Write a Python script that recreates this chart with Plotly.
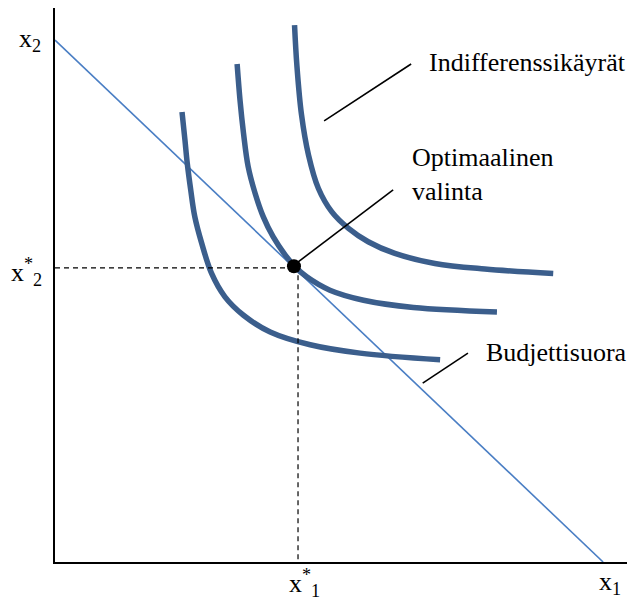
import plotly.graph_objects as go

# indifference curves (x1, x2)
ic_low_x = [2.19, 2.24, 2.28, 2.34, 2.41, 2.53, 2.70, 2.93, 3.25, 3.71, 4.40, 5.26, 6.64]
ic_low_y = [8.08, 7.58, 7.16, 6.68, 6.20, 5.72, 5.18, 4.76, 4.43, 4.13, 3.90, 3.75, 3.63]
ic_mid_x = [3.14, 3.19, 3.25, 3.33, 3.45, 3.59, 3.76, 3.97, 4.13, 4.34, 4.74, 5.32, 6.18, 7.62]
ic_mid_y = [8.94, 8.29, 7.70, 7.10, 6.62, 6.20, 5.84, 5.51, 5.31, 5.12, 4.88, 4.70, 4.57, 4.49]
ic_high_x = [4.13, 4.17, 4.25, 4.37, 4.54, 4.77, 5.06, 5.40, 5.86, 6.55, 7.41, 8.59]
ic_high_y = [9.64, 8.92, 8.03, 7.31, 6.71, 6.29, 5.99, 5.75, 5.54, 5.36, 5.26, 5.18]

budget_x = [0, 9.45]
budget_y = [9.37, 0]

opt_x, opt_y = 4.12, 5.31
guide_x, guide_y = 4.19, 5.28

# label leader lines: (x0, y0, x1, y1)
leaders = [(4.64, 7.92, 6.14, 8.94),
           (4.17, 5.37, 5.83, 6.68),
           (6.34, 3.21, 7.12, 3.75)]

labels = [("Indifferenssikäyrät", 6.42, 8.96),
          ("Optimaalinen<br>valinta", 6.12, 6.95),
          ("Budjettisuora", 7.40, 3.77)]

# axis labels sit outside the plot, so they are placed in axis-fraction units
axis_labels = [("x<sub>2</sub>", -0.066, 0.975),
               ("x<sup>*</sup><sub>2</sub>", -0.080, 0.523),
               ("x<sup>*</sup><sub>1</sub>", 0.400, -0.074),
               ("x<sub>1</sub>", 0.934, -0.070)]

X_MAX, Y_MAX = 10, 9.946

curve_color = "#3b5e8c"
budget_color = "#4a7ec4"
font = dict(family="Liberation Serif", size=26, color="black")

fig = go.Figure()

fig.add_trace(go.Scatter(x=budget_x, y=budget_y, mode="lines",
                         line=dict(color=budget_color, width=1.6)))
for xs, ys in [(ic_low_x, ic_low_y), (ic_mid_x, ic_mid_y), (ic_high_x, ic_high_y)]:
    fig.add_trace(go.Scatter(x=xs, y=ys, mode="lines",
                             line=dict(color=curve_color, width=5.5, shape="spline")))

# dashed guides to the optimum
fig.add_trace(go.Scatter(x=[0, opt_x], y=[guide_y, guide_y], mode="lines",
                         line=dict(color="black", width=1.2, dash="5px,4px")))
fig.add_trace(go.Scatter(x=[guide_x, guide_x], y=[opt_y, 0], mode="lines",
                         line=dict(color="black", width=1.2, dash="5px,4px")))

for x0, y0, x1, y1 in leaders:
    fig.add_trace(go.Scatter(x=[x0, x1], y=[y0, y1], mode="lines",
                             line=dict(color="black", width=1.6)))

fig.add_trace(go.Scatter(x=[opt_x], y=[opt_y], mode="markers",
                         marker=dict(color="black", size=14)))

for text, x, y in labels:
    fig.add_annotation(x=x, y=y, text=text, showarrow=False, xanchor="left",
                       align="left", font=font)
for text, x, y in axis_labels:
    fig.add_annotation(x=x, y=y, xref="paper", yref="paper", text=text,
                       showarrow=False, xanchor="left", font=font)

fig.update_xaxes(range=[0, X_MAX], showline=True, linecolor="black", linewidth=2,
                 showgrid=False, zeroline=False, showticklabels=False, ticks="")
fig.update_yaxes(range=[0, Y_MAX], showline=True, linecolor="black", linewidth=2,
                 showgrid=False, zeroline=False, showticklabels=False, ticks="")
# the page body adds 8px around the figure
fig.update_layout(width=627, height=592, showlegend=False,
                  margin=dict(l=47, r=0, t=0, b=38),
                  plot_bgcolor="white", paper_bgcolor="white")

fig.write_html("out.html")
